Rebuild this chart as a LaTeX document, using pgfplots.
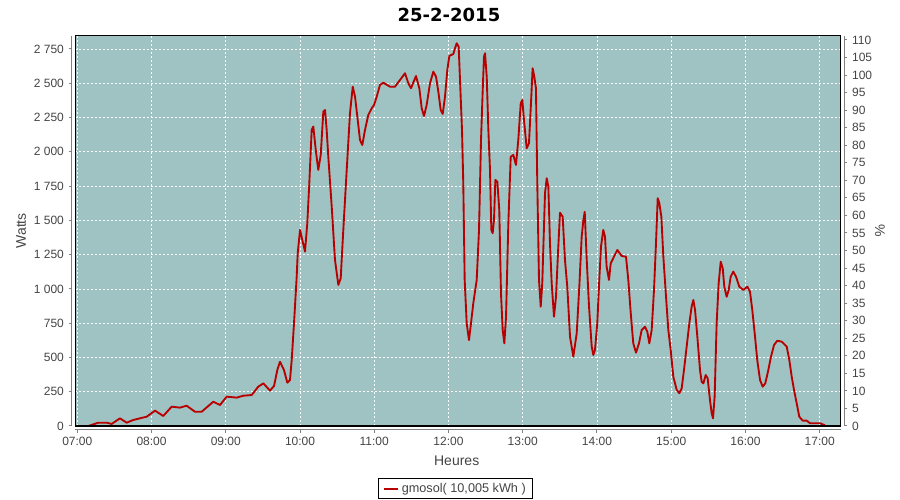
\documentclass[border=0pt]{standalone}
\usepackage{fontspec}
\setmainfont{Liberation Sans}
\newfontfamily\titlefont{DejaVu Sans}
\usepackage{pgfplots}
\pgfplotsset{compat=1.18}
\definecolor{bgteal}{RGB}{158,195,194}
\definecolor{linered}{RGB}{185,0,0}
\definecolor{axgray}{RGB}{128,128,128}
\definecolor{txtgray}{RGB}{68,68,68}
\pgfplotsset{
  common/.style={
    at={(56.475pt,55.5pt)}, anchor=south west,
    width=574.05pt, height=292.725pt, scale only axis,
    xmin=6.973, xmax=17.283,
    tick align=outside, major tick length=2pt,
    tick style={axgray, line width=0.75pt},
    axis line style={axgray, line width=0.75pt, -},
    every tick label/.append style={font=\fontsize{9}{10}\selectfont, text=txtgray},
    /pgf/number format/assume math mode=true,
    /pgf/number format/1000 sep={\ },
    label style={font=\fontsize{10.5}{12}\selectfont, text=txtgray},
  }
}
\begin{document}
\begin{tikzpicture}
\path[use as bounding box] (0,0) rectangle (675pt,375pt);
\begin{axis}[common,
  ymin=0, ymax=2847,
  clip=false,
  axis x line*=bottom, axis y line*=left,
  axis x line shift=3pt, axis y line shift=3pt,
  xtick={7,8,...,17},
  xticklabels={07:00,08:00,09:00,10:00,11:00,12:00,13:00,14:00,15:00,16:00,17:00},
  ytick={0,250,...,2750},
  scaled y ticks=false,
  grid=major,
  grid style={white, dash pattern=on 1.5pt off 1.5pt, line width=0.6pt},
  axis background/.style={fill=bgteal},
  xlabel={Heures},
  xlabel style={at={(axis description cs:0.4983,0)}, anchor=base, yshift=-29.25pt},
  ylabel={Watts},
  ylabel style={at={(axis description cs:-0.0709,0.5)}, anchor=center},
  title={25-2-2015},
  title style={font=\titlefont\bfseries\fontsize{13.5}{16}\selectfont, text=black, at={(axis description cs:0.4882,1)}, anchor=base, yshift=5pt},
  legend style={at={(axis description cs:0.4967,-0.1332)}, anchor=north, draw=black, line width=0.75pt, fill=white,
    inner xsep=3pt, inner ysep=1.5pt, font=\fontsize{9.5}{11}\selectfont, text=txtgray},
  legend image code/.code={\draw[#1, line width=1.5pt] (0pt,0pt) -- (11pt,0pt);},
]
\addplot[linered, line width=1.4pt, line join=round] table[x=t, y=w] {
t w
7.148 0
7.283 24
7.396 24
7.463 15
7.575 56
7.665 24
7.754 44
7.935 68
8.047 112
8.158 73
8.271 141
8.383 134
8.473 148
8.585 104
8.675 104
8.832 177
8.922 153
9.012 214
9.147 207
9.236 221
9.349 226
9.438 287
9.506 311
9.596 258
9.650 292
9.694 408
9.730 469
9.784 408
9.829 316
9.865 336
9.888 481
9.919 749
9.955 1089
9.969 1260
10.000 1430
10.031 1357
10.067 1272
10.098 1479
10.125 1771
10.157 2159
10.179 2184
10.212 2013
10.246 1868
10.279 1977
10.314 2293
10.337 2305
10.359 2159
10.381 1964
10.427 1600
10.471 1211
10.516 1029
10.548 1077
10.583 1430
10.629 1868
10.673 2281
10.710 2475
10.741 2402
10.772 2257
10.808 2086
10.839 2050
10.875 2159
10.920 2269
10.966 2318
10.997 2342
11.033 2402
11.077 2488
11.122 2504
11.212 2475
11.279 2475
11.347 2524
11.414 2573
11.459 2500
11.495 2464
11.562 2553
11.607 2464
11.639 2318
11.670 2261
11.706 2342
11.751 2500
11.796 2585
11.832 2548
11.863 2439
11.895 2305
11.922 2276
11.953 2402
11.984 2597
12.011 2699
12.065 2714
12.088 2755
12.110 2792
12.137 2767
12.155 2524
12.182 2159
12.199 1771
12.218 1065
12.245 749
12.276 627
12.303 749
12.334 895
12.380 1065
12.411 1430
12.438 2086
12.461 2451
12.478 2694
12.492 2719
12.515 2548
12.537 2159
12.559 1868
12.577 1430
12.595 1406
12.613 1503
12.631 1795
12.658 1782
12.684 1576
12.707 968
12.730 700
12.752 603
12.775 797
12.806 1479
12.838 1964
12.873 1977
12.909 1904
12.940 2086
12.973 2354
12.994 2378
13.017 2232
13.053 2026
13.084 2062
13.111 2354
13.133 2609
13.156 2548
13.178 2464
13.196 1771
13.219 1065
13.242 870
13.263 1041
13.300 1698
13.323 1807
13.345 1746
13.367 1333
13.390 1041
13.421 797
13.448 943
13.479 1308
13.502 1556
13.538 1527
13.569 1211
13.600 1016
13.637 651
13.681 506
13.727 676
13.762 1016
13.794 1381
13.817 1503
13.835 1563
13.862 1211
13.893 870
13.929 579
13.951 518
13.973 554
14.004 749
14.031 1065
14.054 1308
14.085 1430
14.108 1381
14.130 1162
14.162 1065
14.185 1187
14.229 1235
14.274 1284
14.333 1240
14.391 1235
14.422 1065
14.455 822
14.489 603
14.526 535
14.566 603
14.602 700
14.647 724
14.678 688
14.705 603
14.737 700
14.768 992
14.795 1333
14.818 1661
14.840 1625
14.867 1527
14.894 1235
14.930 943
14.961 700
14.993 554
15.028 360
15.074 263
15.109 239
15.141 275
15.172 408
15.208 579
15.244 749
15.275 870
15.298 919
15.321 846
15.352 651
15.388 408
15.410 323
15.433 311
15.465 372
15.491 348
15.522 190
15.545 93
15.563 56
15.585 214
15.612 749
15.639 1041
15.667 1199
15.694 1150
15.715 1016
15.747 943
15.774 992
15.801 1089
15.836 1126
15.873 1089
15.917 1016
15.971 992
16.025 1016
16.061 980
16.092 846
16.129 651
16.159 481
16.196 336
16.232 287
16.267 311
16.308 408
16.344 506
16.385 591
16.429 622
16.489 615
16.556 579
16.591 481
16.623 360
16.654 263
16.690 166
16.725 68
16.771 39
16.825 39
16.870 20
17.005 20
17.072 5
};
\addlegendentry{gmosol( 10,005 kWh )\hspace{8pt}}
\draw[black, line width=0.9pt] (rel axis cs:0,0) rectangle (rel axis cs:1,1);
\end{axis}
\begin{axis}[common,
  ymin=0, ymax=111.2,
  hide x axis,
  axis y line*=right, axis y line shift=3pt,
  ytick={0,5,...,110},
  ylabel={\%},
  ylabel style={at={(axis description cs:1.0513,0.5)}, anchor=center, rotate=180},
]
\end{axis}
\end{tikzpicture}
\end{document}
